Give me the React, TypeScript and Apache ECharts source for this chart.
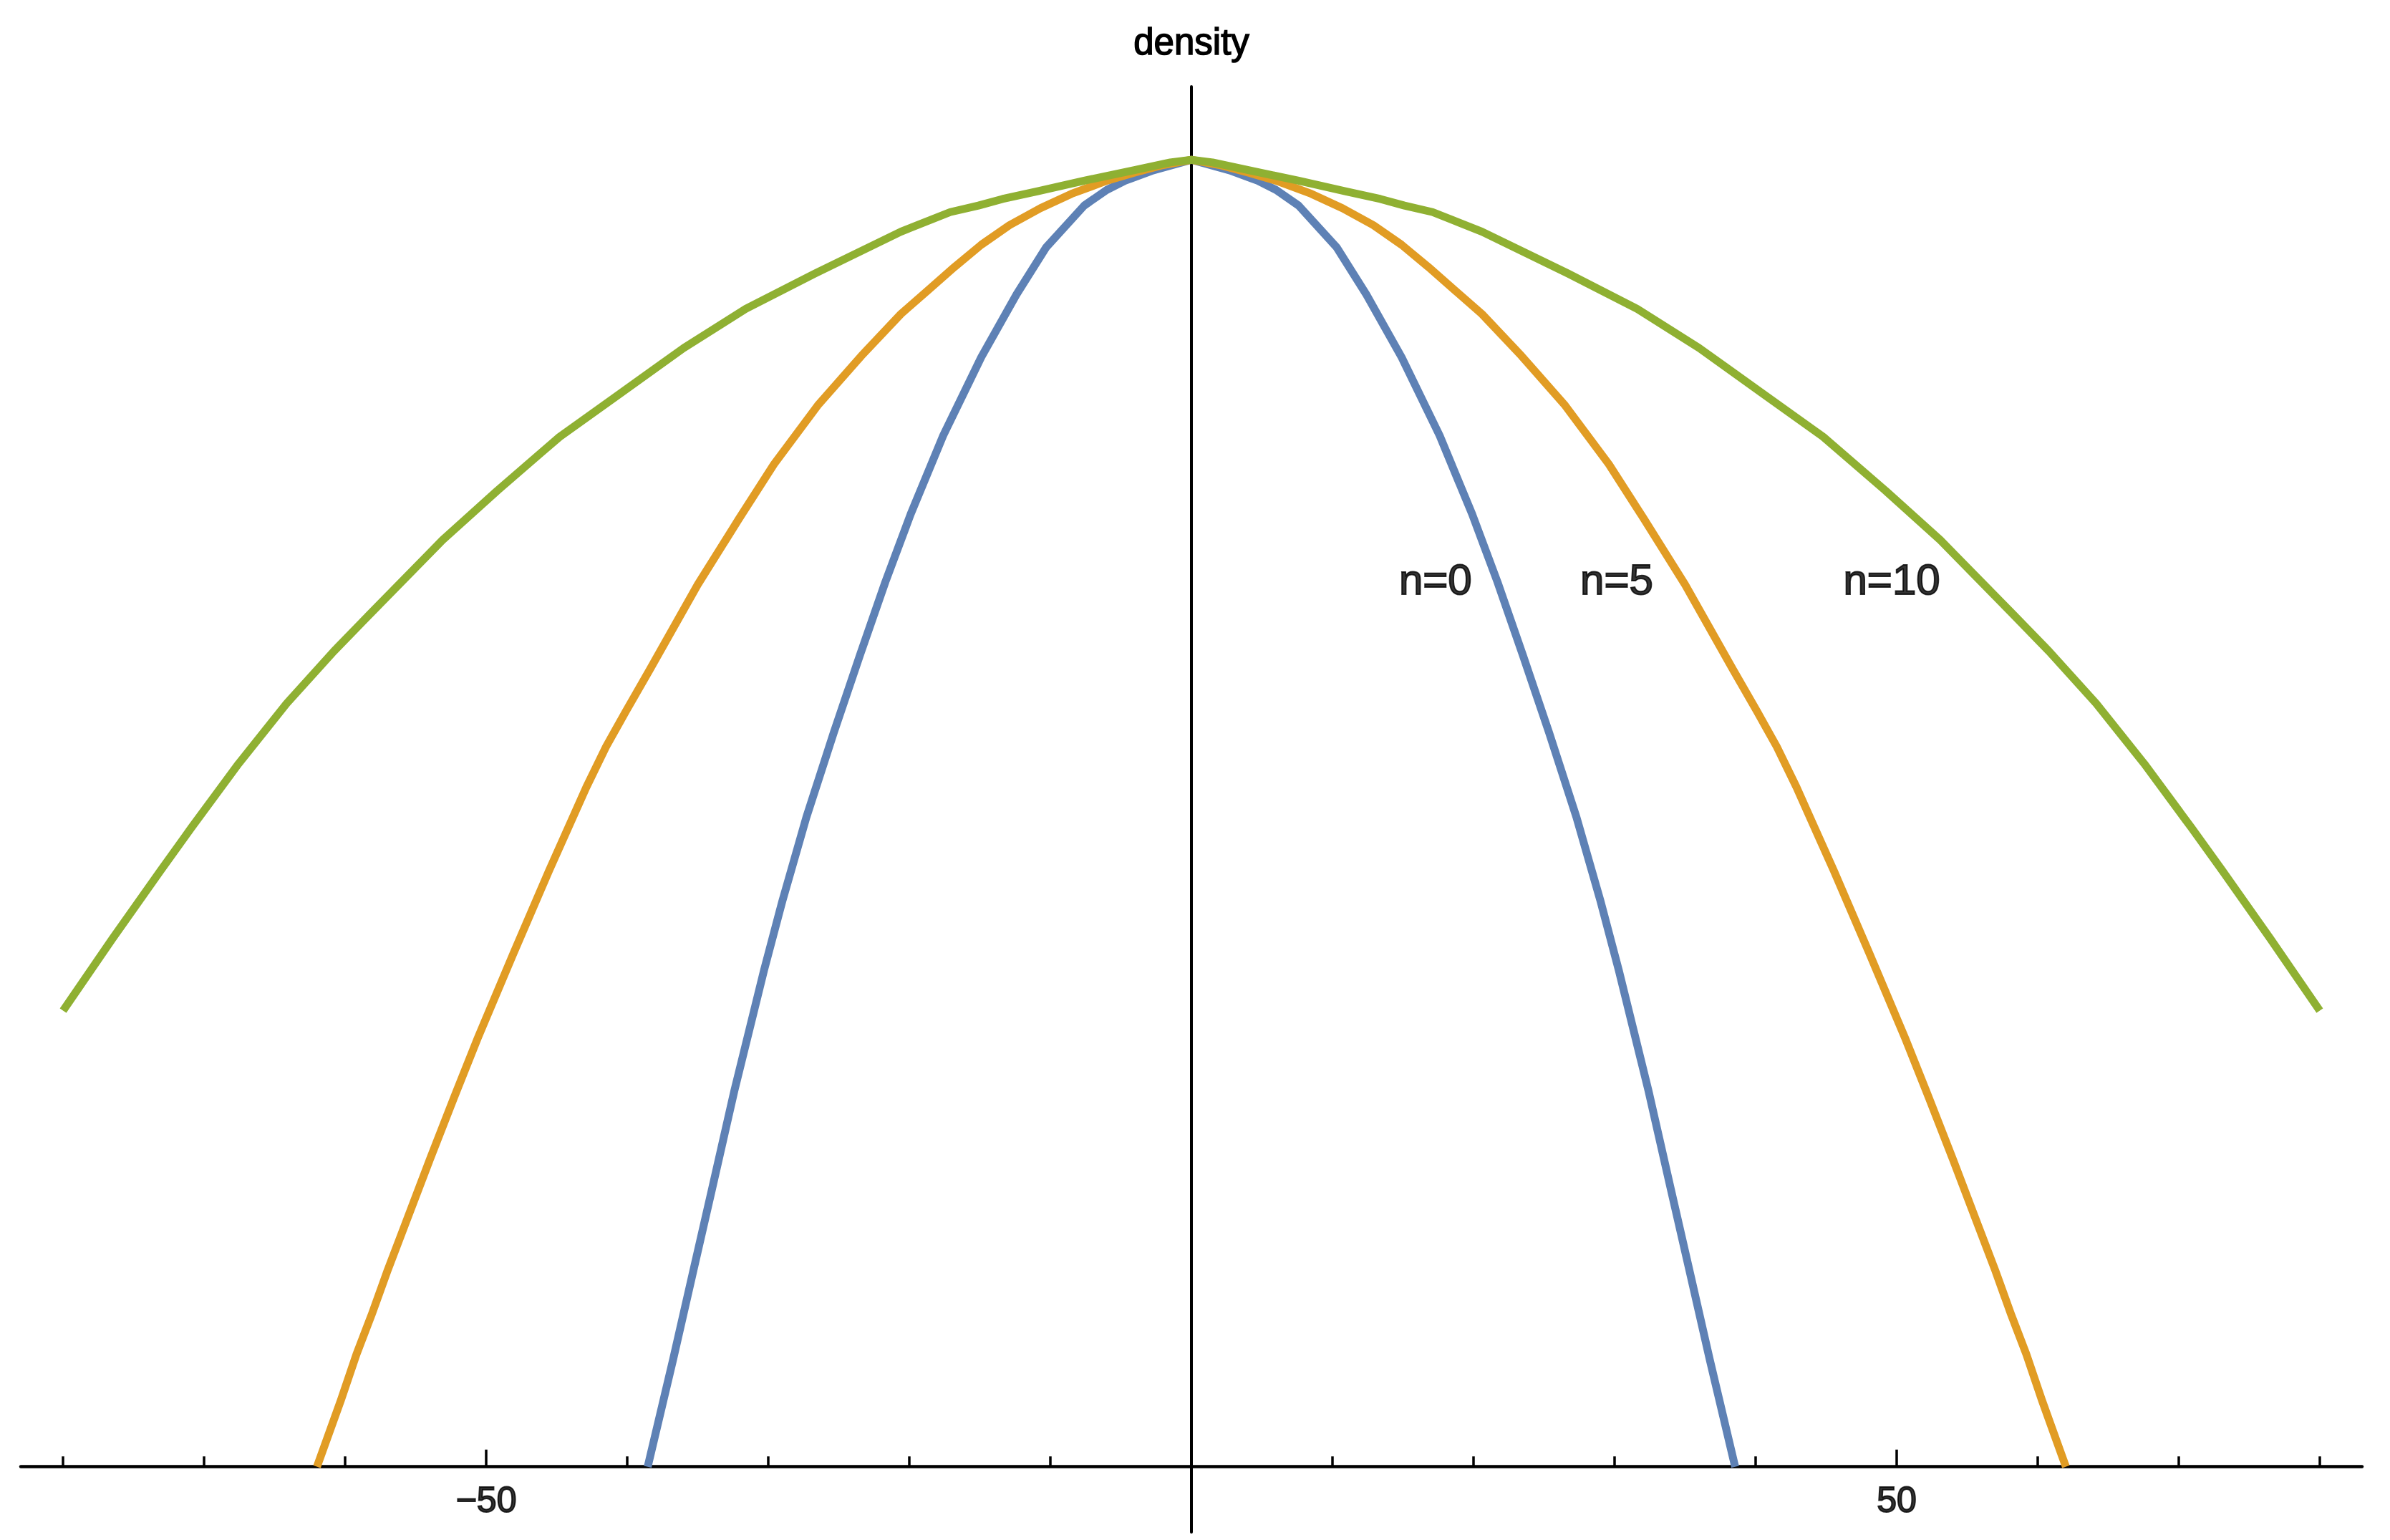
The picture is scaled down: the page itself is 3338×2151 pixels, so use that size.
import React, { useEffect, useRef } from 'react';
import * as echarts from 'echarts';

// n=0 curve (blue)
const blueX = [-38.55, -36.75, -35.4, -34.0, -32.4, -30.3, -29.0, -27.3, -25.35, -23.5, -21.7, -19.9, -17.6, -14.9, -12.4, -10.3, -7.6, -6.0, -4.7, -2.7, 0, 2.7, 4.7, 6.0, 7.6, 10.3, 12.4, 14.9, 17.6, 19.9, 21.7, 23.5, 25.35, 27.3, 29.0, 30.3, 32.4, 34.0, 35.4, 36.75, 38.55];
const blueY = [0, 0.082, 0.146, 0.212, 0.288, 0.380, 0.433, 0.497, 0.562, 0.621, 0.677, 0.729, 0.789, 0.849, 0.897, 0.933, 0.965, 0.977, 0.984, 0.992, 1.000, 0.992, 0.984, 0.977, 0.965, 0.933, 0.897, 0.849, 0.789, 0.729, 0.677, 0.621, 0.562, 0.497, 0.433, 0.380, 0.288, 0.212, 0.146, 0.082, 0];

// n=5 curve (orange)
const orangeX = [-62.0, -61.4, -60.3, -59.2, -58.1, -57.0, -55.8, -54.0, -52.3, -50.6, -48.1, -45.55, -42.9, -41.5, -40.1, -38.4, -35.0, -32.1, -29.6, -26.5, -23.4, -20.6, -18.7, -16.8, -14.9, -12.9, -10.7, -8.5, -6.0, -4.1, -2.0, 0, 2.0, 4.1, 6.0, 8.5, 10.7, 12.9, 14.9, 16.8, 18.7, 20.6, 23.4, 26.5, 29.6, 32.1, 35.0, 38.4, 40.1, 41.5, 42.9, 45.55, 48.1, 50.6, 52.3, 54.0, 55.8, 57.0, 58.1, 59.2, 60.3, 61.4, 62.0];
const orangeY = [0, 0.018, 0.051, 0.086, 0.117, 0.150, 0.184, 0.235, 0.282, 0.328, 0.392, 0.456, 0.520, 0.551, 0.578, 0.610, 0.675, 0.725, 0.767, 0.812, 0.850, 0.882, 0.900, 0.918, 0.935, 0.950, 0.963, 0.974, 0.984, 0.990, 0.996, 1.000, 0.996, 0.990, 0.984, 0.974, 0.963, 0.950, 0.935, 0.918, 0.900, 0.882, 0.850, 0.812, 0.767, 0.725, 0.675, 0.610, 0.578, 0.551, 0.520, 0.456, 0.392, 0.328, 0.282, 0.235, 0.184, 0.150, 0.117, 0.086, 0.051, 0.018, 0];

// n=10 curve (green)
const greenX = [-80.0, -76.5, -73.1, -70.9, -67.55, -64.15, -60.8, -58.1, -53.1, -49.2, -44.8, -40.4, -36.0, -31.6, -26.7, -20.6, -17.1, -15.1, -13.4, -10.9, -7.6, -4.1, -1.5, 0, 1.5, 4.1, 7.6, 10.9, 13.4, 15.1, 17.1, 20.6, 26.7, 31.6, 36.0, 40.4, 44.8, 49.2, 53.1, 58.1, 60.8, 64.15, 67.55, 70.9, 73.1, 76.5, 80.0];
const greenY = [0.349, 0.404, 0.456, 0.489, 0.538, 0.584, 0.624, 0.654, 0.709, 0.747, 0.788, 0.822, 0.856, 0.886, 0.913, 0.945, 0.960, 0.965, 0.970, 0.976, 0.984, 0.992, 0.998, 1.000, 0.998, 0.992, 0.984, 0.976, 0.970, 0.965, 0.960, 0.945, 0.913, 0.886, 0.856, 0.822, 0.788, 0.747, 0.709, 0.654, 0.624, 0.584, 0.538, 0.489, 0.456, 0.404, 0.349];

// axis ticks and labels
const minorTicks = [-80, -70, -60, -40, -30, -20, -10, 10, 20, 30, 40, 60, 70, 80];
const majorTicks = [-50, 50];

// curve annotations
const labelNames = ['n=0', 'n=5', 'n=10'];
const labelX = [17.3, 30.15, 49.65];
const labelY = [0.679, 0.679, 0.679];

const FONT = '"Liberation Sans", Arial, Helvetica, sans-serif';

const zip = (xs: number[], ys: number[]) => xs.map((x, i) => [x, ys[i]]);
const fmtTick = (v: number) => (v < 0 ? '\u2212' + Math.abs(v) : String(v));

export default function App() {
  const ref = useRef<HTMLDivElement>(null);

  useEffect(() => {
    if (!ref.current) return;
    const chart = echarts.init(ref.current, null, { renderer: 'svg' });
    const lineSeries = (name: string, xs: number[], ys: number[], color: string) => ({
      type: 'line',
      name,
      data: zip(xs, ys),
      showSymbol: false,
      symbol: 'none',
      smooth: false,
      silent: true,
      lineStyle: { color, width: 11, join: 'round' },
      emphasis: { disabled: true },
    });
    const textSeries = (name: string, data: any[], fontSize: number, offsetY: number) => ({
      type: 'scatter',
      name,
      silent: true,
      symbolSize: 1,
      itemStyle: { color: 'rgba(0,0,0,0)' },
      emphasis: { disabled: true },
      data,
      label: {
        show: true,
        position: 'inside',
        offset: [0, offsetY],
        formatter: '{b}',
        fontSize,
        fontFamily: FONT,
        color: '#000000',
        textBorderColor: '#000000',
        textBorderWidth: 2,
        align: 'center',
        verticalAlign: 'middle',
      },
    });
    chart.setOption({
      animation: false,
      backgroundColor: '#ffffff',
      grid: { left: 29, right: 39, top: 121, bottom: 11 },
      xAxis: [
        {
          type: 'value',
          min: -83,
          max: 83,
          position: 'bottom',
          axisLine: { show: true, onZero: true, onZeroAxisIndex: 0, lineStyle: { color: '#000', width: 4.5 } },
          axisTick: { show: true, inside: true, length: 14.5, customValues: minorTicks, lineStyle: { color: '#000', width: 3.5 } },
          axisLabel: { show: false },
          splitLine: { show: false },
        },
        {
          type: 'value',
          min: -83,
          max: 83,
          position: 'bottom',
          axisLine: { show: false, onZero: true, onZeroAxisIndex: 0 },
          axisTick: { show: true, inside: true, length: 24, customValues: majorTicks, lineStyle: { color: '#000', width: 3.5 } },
          axisLabel: { show: false },
          splitLine: { show: false },
        },
      ],
      yAxis: {
        type: 'value',
        min: -0.05,
        max: 1.056,
        name: 'density',
        nameLocation: 'end',
        nameGap: 37,
        nameTextStyle: {
          fontSize: 51,
          fontFamily: FONT,
          color: '#000000',
          textBorderColor: '#000000',
          textBorderWidth: 1.5,
          align: 'center',
        },
        axisLine: { show: true, onZero: true, onZeroAxisIndex: 0, lineStyle: { color: '#000', width: 4 } },
        axisTick: { show: false },
        axisLabel: { show: false },
        splitLine: { show: false },
      },
      series: [
        lineSeries('n=0', blueX, blueY, '#5E81B5'),
        lineSeries('n=5', orangeX, orangeY, '#E19C24'),
        lineSeries('n=10', greenX, greenY, '#8FB032'),
        textSeries(
          'curve labels',
          labelNames.map((n, i) => ({ name: n, value: [labelX[i], labelY[i]] })),
          60,
          0
        ),
        textSeries(
          'tick labels',
          majorTicks.map((v) => ({ name: fmtTick(v), value: [v, 0] })),
          50,
          46
        ),
      ],
    });
    return () => chart.dispose();
  }, []);

  return (
    <div
      ref={ref}
      style={{ position: 'fixed', left: 0, top: 0, width: 3338, height: 2151, background: '#fff' }}
    />
  );
}
